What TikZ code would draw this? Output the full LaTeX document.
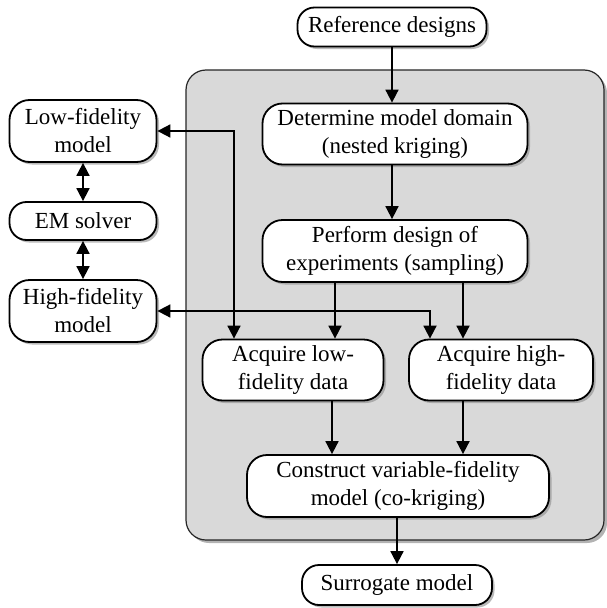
\documentclass[tikz,border=0pt]{standalone}
\usepackage{fontspec}
\setmainfont{Liberation Serif}
\usetikzlibrary{arrows.meta,shadows}
\begin{document}
\begin{tikzpicture}[x=1pt,y=-1pt,
  box/.style={draw=black, line width=1.8pt, fill=white, rounded corners=20pt, align=center, inner sep=0pt,
    font=\fontsize{23}{28}\selectfont,
    drop shadow={shadow xshift=2.5pt, shadow yshift=-2.5pt, fill=black!45, opacity=0.6}},
  sbox/.style={box, rounded corners=17pt},
  panel/.style={draw=black!85, line width=1.2pt, fill=gray!30, rounded corners=20pt, inner sep=0pt,
    drop shadow={shadow xshift=3pt, shadow yshift=-3pt, fill=black!50, opacity=0.6}},
  arr/.style={line width=1.8pt, -{Triangle[length=13pt,width=13pt]}},
  darr/.style={line width=1.8pt, {Triangle[length=13pt,width=13pt]}-{Triangle[length=13pt,width=13pt]}}]
\useasboundingbox (0,0) rectangle (606,608);

\node[panel, minimum width=418pt, minimum height=470pt] (panel) at (395,305) {};

\node[sbox, minimum width=189pt, minimum height=39pt] (ref) at (392,27) {Reference designs};
\node[box, minimum width=265pt, minimum height=61pt] (det) at (395,134) {Determine model domain\\(nested kriging)};
\node[box, minimum width=265pt, minimum height=62pt] (perf) at (395,251) {Perform design of\\experiments (sampling)};
\node[box, minimum width=147pt, minimum height=62pt] (lowm) at (83,131) {Low-fidelity\\model};
\node[sbox, minimum width=147pt, minimum height=38pt] (em) at (83,221) {EM solver};
\node[box, minimum width=147pt, minimum height=62pt] (highm) at (83,311) {High-fidelity\\model};
\node[box, minimum width=181pt, minimum height=61pt] (acql) at (293,370) {Acquire low-\\fidelity data};
\node[box, minimum width=184pt, minimum height=61pt] (acqh) at (501,370) {Acquire high-\\fidelity data};
\node[box, minimum width=302pt, minimum height=62pt] (cons) at (398,486) {Construct variable-fidelity\\model (co-kriging)};
\node[sbox, minimum width=190pt, minimum height=40pt] (surr) at (397,585) {Surrogate model};

\coordinate (x392) at (392,0);
\coordinate (x335) at (335,0);
\coordinate (x463) at (463,0);
\coordinate (x332) at (332,0);
\coordinate (x234) at (234,0);
\coordinate (x430) at (430,0);
\coordinate (x397) at (397,0);

\draw[arr] (ref.south -| x392) -- (det.north -| x392);
\draw[arr] (det.south -| x392) -- (perf.north -| x392);
\draw[arr] (perf.south -| x335) -- (acql.north -| x335);
\draw[arr] (perf.south -| x463) -- (acqh.north -| x463);
\draw[arr] (acql.south -| x332) -- (cons.north -| x332);
\draw[arr] (acqh.south -| x463) -- (cons.north -| x463);
\draw[arr] (cons.south -| x397) -- (surr.north -| x397);

\draw[darr] (lowm.south) -- (em.north);
\draw[darr] (em.south) -- (highm.north);
\draw[darr] (lowm.east) -| (acql.north -| x234);
\draw[darr] (highm.east) -| (acqh.north -| x430);
\end{tikzpicture}
\end{document}
